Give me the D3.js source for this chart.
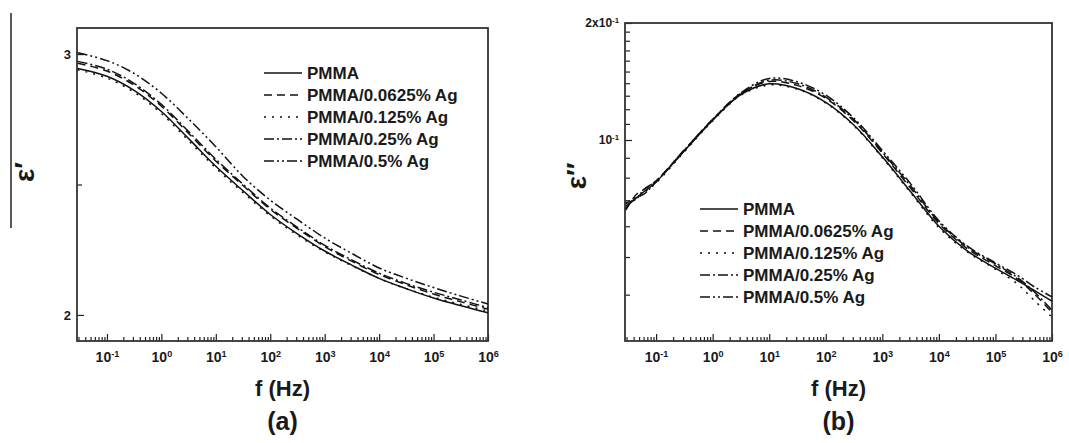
<!DOCTYPE html>
<html>
<head>
<meta charset="utf-8">
<script src="https://cdnjs.cloudflare.com/ajax/libs/d3/7.8.5/d3.min.js"></script>
<style>
body{margin:0;background:#fff;}
text{font-family:"Liberation Sans",Arial,sans-serif;font-weight:bold;fill:#1a1a1a;}
</style>
</head>
<body>
<svg id="chart" width="1069" height="443"></svg>
<script>
// series names and line styles (same order in both panels)
var seriesNames = ["PMMA","PMMA/0.0625% Ag","PMMA/0.125% Ag","PMMA/0.25% Ag","PMMA/0.5% Ag"];
var dashes = ["none","8,5","2,6","10,3,2,3","10,3,2,3,2,3"];

var xTickExps = [-1,0,1,2,3,4,5,6];

// (a) real part eps'
var freqA = [0.029,0.1,0.32,1,3.2,10,32,100,320,1e3,3.2e3,1e4,3.2e4,1e5,3.2e5,1e6];
var epsA_pmma  = [2.945,2.915,2.86,2.78,2.675,2.57,2.475,2.385,2.31,2.245,2.19,2.14,2.1,2.065,2.035,2.008];
var epsA_0625  = [2.965,2.935,2.88,2.80,2.695,2.59,2.495,2.405,2.33,2.262,2.205,2.155,2.115,2.08,2.05,2.022];
var epsA_125   = [2.94,2.908,2.853,2.772,2.667,2.563,2.468,2.38,2.305,2.242,2.188,2.14,2.1,2.068,2.04,2.015];
var epsA_25    = [2.972,2.942,2.887,2.807,2.702,2.597,2.50,2.41,2.335,2.267,2.21,2.16,2.12,2.087,2.057,2.028];
var epsA_5     = [3.005,2.975,2.925,2.85,2.75,2.645,2.53,2.44,2.365,2.295,2.235,2.18,2.14,2.105,2.072,2.042];
var yTicksA = [2,3];
var yMinorA = [2.5];

// (b) imaginary part eps''
var freqB = [0.029,0.045,0.06,0.1,0.32,1,3.2,10,32,100,320,1e3,3.2e3,1e4,3.2e4,1e5,2.5e5,5e5,1e6];
var epsB_pmma = [0.0675,0.071,0.0735,0.078,0.094,0.1125,0.131,0.1395,0.1355,0.125,0.109,0.0905,0.0735,0.060,0.0518,0.0468,0.0434,0.0409,0.0385];
var epsB_0625 = [0.066,0.0725,0.0745,0.0785,0.0945,0.113,0.132,0.1415,0.138,0.128,0.1115,0.0925,0.075,0.061,0.0525,0.0475,0.0438,0.040,0.036];
var epsB_125  = [0.0685,0.0705,0.073,0.0775,0.0935,0.112,0.1305,0.1385,0.135,0.1245,0.1085,0.090,0.073,0.0595,0.0515,0.0465,0.0425,0.0385,0.035];
var epsB_25   = [0.0665,0.0715,0.0725,0.078,0.094,0.1125,0.1315,0.1425,0.1395,0.129,0.1125,0.093,0.076,0.0615,0.053,0.048,0.0442,0.0405,0.0365];
var epsB_5    = [0.069,0.0705,0.0745,0.0785,0.0945,0.113,0.1325,0.144,0.141,0.1305,0.1135,0.094,0.077,0.062,0.0533,0.0483,0.0448,0.0418,0.0395];
var yTicksB = [0.1,0.2];
var yMinorB = [0.04,0.05,0.06,0.07,0.08,0.09,0.11,0.12,0.13,0.14,0.15,0.16,0.17,0.18,0.19];

var fMin = Math.pow(10,-1.55);
var svg = d3.select("#chart");

function supLabel(sel, base, exp){
  sel.text(null);
  sel.append("tspan").text(base);
  sel.append("tspan").attr("dy","-0.55em").attr("font-size","0.65em").text(exp);
}

function buildPanel(p){
  var g = svg.append("g");
  var x = d3.scaleLog().domain([fMin,1e6]).range([p.left,p.right]);
  var y = p.y;

  // minor x ticks 2..9 per decade
  var minorX = [];
  for (var e = -2; e < 6; e++){
    for (var k = 2; k <= 9; k++){
      var v = k*Math.pow(10,e);
      if (v >= fMin && v <= 1e6) minorX.push(v);
    }
  }
  var majorX = xTickExps.map(function(e){ return Math.pow(10,e); });

  g.append("g").attr("transform","translate(0,"+p.bottom+")")
    .call(d3.axisBottom(x).tickValues(minorX).tickSize(-4).tickFormat(""))
    .call(function(a){ a.select(".domain").remove(); });
  var xa = g.append("g").attr("transform","translate(0,"+p.bottom+")")
    .call(d3.axisBottom(x).tickValues(majorX).tickSize(-7).tickPadding(11));
  xa.select(".domain").remove();
  xa.selectAll("text").attr("font-size",14).attr("font-weight","bold")
    .attr("font-family","Liberation Sans, Arial, sans-serif").attr("fill","#1a1a1a")
    .each(function(d, i){ supLabel(d3.select(this), "10", String(xTickExps[i])); });

  // y axis
  g.append("g").attr("transform","translate("+p.left+",0)")
    .call(d3.axisLeft(y).tickValues(p.yMinor).tickSize(-5).tickFormat(""))
    .call(function(a){ a.select(".domain").remove(); });
  var ya = g.append("g").attr("transform","translate("+p.left+",0)")
    .call(d3.axisLeft(y).tickValues(p.yTicks).tickSize(-7).tickPadding(6));
  ya.select(".domain").remove();
  ya.selectAll("text").attr("font-size",p.yFont).attr("font-weight","bold")
    .attr("font-family","Liberation Sans, Arial, sans-serif").attr("fill","#1a1a1a")
    .each(function(d){ p.yLabel(d3.select(this), d); });
  g.selectAll(".tick line").attr("stroke","#222").attr("stroke-width",1.2);

  // frame
  g.append("rect").attr("x",p.left).attr("y",p.top)
    .attr("width",p.right-p.left).attr("height",p.bottom-p.top)
    .attr("fill","none").attr("stroke","#333").attr("stroke-width",1.8);

  // curves
  var line = d3.line()
    .x(function(d){ return x(d[0]); })
    .y(function(d){ return y(d[1]); })
    .curve(d3.curveCatmullRom);
  p.series.forEach(function(vals, i){
    var pts = p.freq.map(function(f, j){ return [f, vals[j]]; });
    g.append("path").datum(pts).attr("d",line)
      .attr("fill","none").attr("stroke","#111").attr("stroke-width",1.5)
      .attr("stroke-dasharray",dashes[i]);
  });

  // legend
  seriesNames.forEach(function(name, i){
    var ly = p.legY + i*22;
    g.append("line").attr("x1",p.legX).attr("x2",p.legX+38).attr("y1",ly).attr("y2",ly)
      .attr("stroke","#111").attr("stroke-width",1.6).attr("stroke-dasharray",dashes[i]);
    g.append("text").attr("x",p.legX+43).attr("y",ly+6).attr("font-size",17).text(name);
  });

  // axis titles
  g.append("text").attr("x",(p.left+p.right)/2).attr("y",396).attr("text-anchor","middle")
    .attr("font-size",22).text("f (Hz)");
  g.append("text").attr("x",(p.left+p.right)/2).attr("y",430).attr("text-anchor","middle")
    .attr("font-size",25).text(p.tag);
  g.append("text").attr("transform","translate("+p.yTitleX+","+p.yTitleY+") rotate(-90)")
    .attr("text-anchor","middle").attr("dominant-baseline","central")
    .attr("font-size",28).text(p.yTitle);
}

buildPanel({
  left:77, right:488, top:28, bottom:341,
  y: d3.scaleLinear().domain([1.9,3.1]).range([341,28]),
  yTicks: yTicksA, yMinor: yMinorA, yFont: 13,
  yLabel: function(sel, d){ sel.text(d); },
  freq: freqA,
  series: [epsA_pmma, epsA_0625, epsA_125, epsA_25, epsA_5],
  legX: 264, legY: 73, tag: "(a)",
  yTitle: "\u03b5\u2032", yTitleX: 24, yTitleY: 172
});

buildPanel({
  left:625, right:1052, top:23, bottom:341,
  y: d3.scaleLog().domain([0.0304,0.2]).range([341,23]),
  yTicks: yTicksB, yMinor: yMinorB, yFont: 12,
  yLabel: function(sel, d){ supLabel(sel, d === 0.2 ? "2x10" : "10", "-1"); },
  freq: freqB,
  series: [epsB_pmma, epsB_0625, epsB_125, epsB_25, epsB_5],
  legX: 700, legY: 209, tag: "(b)",
  yTitle: "\u03b5\u2032\u2032", yTitleX: 576, yTitleY: 176
});

// stray vertical rule at the far left of panel (a)
svg.append("line").attr("x1",11).attr("x2",11).attr("y1",13).attr("y2",228)
  .attr("stroke","#222").attr("stroke-width",1.5);
</script>
</body>
</html>
